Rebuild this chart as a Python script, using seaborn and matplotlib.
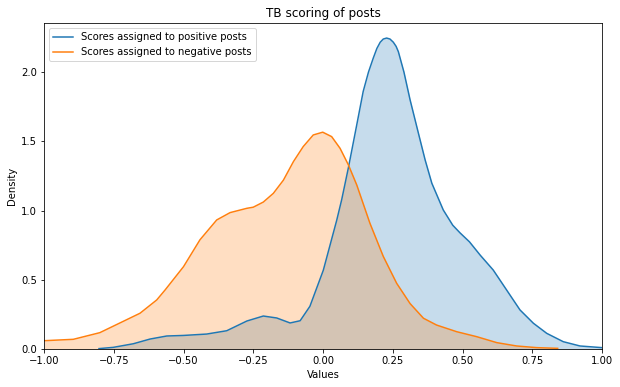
import matplotlib
matplotlib.use("Agg")
import matplotlib.pyplot as plt
import seaborn as sns
import pandas as pd

# Density curves (x value, density)
pos_x = [-0.803, -0.752, -0.68, -0.62, -0.56, -0.50, -0.417, -0.345, -0.273, -0.214,
         -0.166, -0.118, -0.082, -0.047, 0.001, 0.037, 0.049, 0.067, 0.091, 0.121,
         0.144, 0.163, 0.18, 0.193, 0.205, 0.216, 0.228, 0.24, 0.252, 0.262,
         0.27, 0.29, 0.312, 0.342, 0.366, 0.39,
         0.431, 0.465, 0.491, 0.525, 0.563, 0.61, 0.658, 0.706, 0.754, 0.802,
         0.861, 0.921, 1.0]
pos_y = [0.005, 0.014, 0.04, 0.074, 0.096, 0.10, 0.11, 0.134, 0.204, 0.24,
         0.226, 0.19, 0.206, 0.31, 0.57, 0.84, 0.93, 1.08, 1.31, 1.62,
         1.86, 2.0, 2.10, 2.17, 2.215, 2.238, 2.245, 2.238, 2.215, 2.185,
         2.147, 2.0, 1.80, 1.558, 1.366, 1.198,
         1.005, 0.895, 0.84, 0.775, 0.68, 0.572, 0.428, 0.284, 0.188, 0.115,
         0.055, 0.024, 0.012]

neg_x = [-1.0, -0.895, -0.80, -0.728, -0.656, -0.596, -0.566, -0.50, -0.441, -0.381,
         -0.333, -0.273, -0.25, -0.214, -0.178, -0.142, -0.106, -0.071, -0.035, -0.001,
         0.031, 0.061, 0.091, 0.121, 0.168, 0.216, 0.264, 0.312, 0.36, 0.407,
         0.479, 0.551, 0.623, 0.694, 0.766, 0.841]
neg_y = [0.062, 0.072, 0.12, 0.19, 0.26, 0.356, 0.428, 0.596, 0.79, 0.933,
         0.986, 1.017, 1.025, 1.062, 1.125, 1.22, 1.354, 1.462, 1.546, 1.566,
         1.534, 1.45, 1.33, 1.185, 0.91, 0.67, 0.476, 0.33, 0.224, 0.175,
         0.127, 0.091, 0.048, 0.024, 0.012, 0.007]

labels = ["Scores assigned to positive posts", "Scores assigned to negative posts"]
x_ticks = [-1.0, -0.75, -0.5, -0.25, 0.0, 0.25, 0.5, 0.75, 1.0]
y_ticks = [0.0, 0.5, 1.0, 1.5, 2.0]

colors = ["#1f77b4", "#ff7f0e"]

fig = plt.figure(figsize=(620 / 72, 387 / 72), dpi=72)
ax = fig.add_axes([0.071, 0.0974, 0.9, 0.8426])

for xs, ys, lab, c in [(pos_x, pos_y, labels[0], colors[0]),
                        (neg_x, neg_y, labels[1], colors[1])]:
    df = pd.DataFrame({"x": xs, "y": ys})
    sns.lineplot(data=df, x="x", y="y", ax=ax, color=c, label=lab, linewidth=1.5)
    ax.fill_between(xs, 0, ys, color=c, alpha=0.25, linewidth=0)

ax.set_xlim(-1, 1)
ax.set_ylim(0, 2.352)
ax.set_xticks(x_ticks)
ax.set_xticklabels([f"{t:.2f}".replace("-", "\u2212") for t in x_ticks])
ax.set_yticks(y_ticks)
ax.set_yticklabels([f"{t:.1f}" for t in y_ticks])
ax.set_xlabel("Values")
ax.set_ylabel("Density")
ax.set_title("TB scoring of posts")
ax.legend(loc="upper left")

fig.savefig("out.png", dpi=72)
